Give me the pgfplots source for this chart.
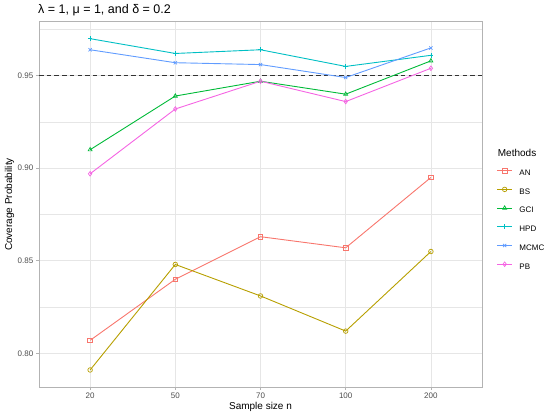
\documentclass[border=0pt]{standalone}
\usepackage{fontspec}
\setmainfont{Liberation Sans}
\usepackage{pgfplots}
\pgfplotsset{compat=1.18}
\definecolor{cAN}{HTML}{F8766D}
\definecolor{cBS}{HTML}{B79F00}
\definecolor{cGCI}{HTML}{00BA38}
\definecolor{cHPD}{HTML}{00BFC4}
\definecolor{cMCMC}{HTML}{619CFF}
\definecolor{cPB}{HTML}{F564E3}
\definecolor{grey87}{HTML}{E6E6E6}
\definecolor{grey70}{HTML}{B3B3B3}
\definecolor{grey30}{HTML}{4D4D4D}
\begin{document}
\begin{tikzpicture}
\path[use as bounding box] (0,0) rectangle (550bp,417bp);
\begin{axis}[
  name=ax,
  at={(39bp,30bp)}, anchor=south west,
  width=443bp, height=365bp, scale only axis,
  xmin=-0.6, xmax=4.6, ymin=0.7818, ymax=0.979,
  xtick={0,1,2,3,4}, xticklabels={20,50,70,100,200},
  ytick={0.80,0.85,0.90,0.95}, yticklabels={0.80,0.85,0.90,0.95},
  minor ytick={0.825,0.875,0.925,0.975},
  grid=both,
  major grid style={color=grey87, line width=0.6bp},
  minor grid style={color=grey87, line width=0.35bp},
  axis line style={color=grey70, line width=1bp},
  tick style={color=grey70, line width=0.6bp},
  tick align=outside, major tick length=3bp, minor tick length=0pt,
  xtick pos=bottom, ytick pos=left,
  ticklabel style={font=\fontsize{8bp}{9.6bp}\selectfont, text=grey30, inner sep=0pt},
  yticklabel style={xshift=-2.5bp},
  xticklabel style={yshift=-2.5bp},
  /pgf/number format/assume math mode=true,
  xlabel={Sample size n}, ylabel={Coverage Probability},
  every axis x label/.style={at={(rel axis cs:0.5,0)}, yshift=-19.5bp, anchor=center, font=\fontsize{10bp}{12bp}\selectfont},
  every axis y label/.style={at={(rel axis cs:0,0.5)}, xshift=-29.5bp, rotate=90, anchor=center, font=\fontsize{10bp}{12bp}\selectfont},
  clip=false,
  every axis plot/.append style={line width=0.9bp, mark size=2.3bp, mark options={solid, line width=0.7bp, fill=none}},
  legend cell align=left,
  legend image code/.code={
    \draw[#1, mark repeat=2, mark phase=2] plot coordinates {(0bp,2.9bp)(7.5bp,2.9bp)(15bp,2.9bp)};
    \path[draw=none, fill=none] (0bp,-2bp) rectangle (22.3bp,6bp);
  },
  legend style={at={(rel axis cs:1.0332,0.6011)}, anchor=north west, draw=none, fill=none,
    inner sep=0pt, outer sep=0pt, row sep=8.7bp,
    font=\fontsize{8bp}{9.6bp}\selectfont,
    nodes={inner sep=0pt, outer sep=0pt, text height=6bp, text depth=2bp}},
]
\addplot[color=black!80, line width=1.2bp, dash pattern=on 4.5bp off 3.2bp, forget plot] coordinates {(-0.6,0.95) (4.6,0.95)};
\addplot[color=cAN, mark=square] coordinates {(0,0.807) (1,0.840) (2,0.863) (3,0.857) (4,0.895)};
\addlegendentry{AN}
\addplot[color=cBS, mark=o] coordinates {(0,0.791) (1,0.848) (2,0.831) (3,0.812) (4,0.855)};
\addlegendentry{BS}
\addplot[color=cGCI, mark=triangle] coordinates {(0,0.910) (1,0.939) (2,0.947) (3,0.940) (4,0.958)};
\addlegendentry{GCI}
\addplot[color=cHPD, mark=+] coordinates {(0,0.970) (1,0.962) (2,0.964) (3,0.955) (4,0.961)};
\addlegendentry{HPD}
\addplot[color=cMCMC, mark=x] coordinates {(0,0.964) (1,0.957) (2,0.956) (3,0.949) (4,0.965)};
\addlegendentry{MCMC}
\addplot[color=cPB, mark=diamond] coordinates {(0,0.897) (1,0.932) (2,0.947) (3,0.936) (4,0.954)};
\addlegendentry{PB}
\end{axis}
\node[anchor=base west, inner sep=0pt, font=\fontsize{12.5bp}{15bp}\selectfont] at ([xshift=-1bp, yshift=8.7bp]ax.north west) {λ = 1, μ = 1, and δ = 0.2};
\node[anchor=west, inner sep=0pt, font=\fontsize{10bp}{12bp}\selectfont] at ([xshift=458.7bp, yshift=-130.7bp]ax.north west) {Methods};
\end{tikzpicture}
\end{document}
